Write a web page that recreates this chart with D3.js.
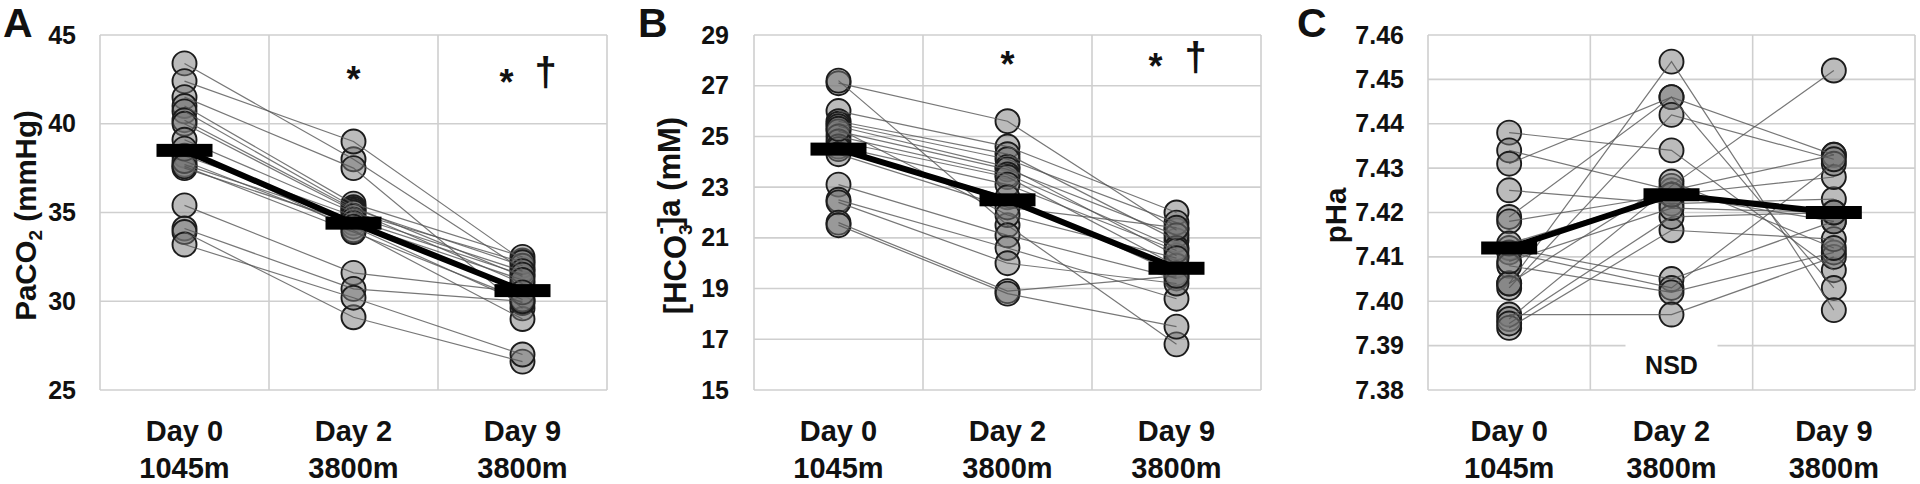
<!DOCTYPE html>
<html><head><meta charset="utf-8">
<script src="https://cdn.jsdelivr.net/npm/d3@7"></script>
<style>
html,body{margin:0;padding:0;background:#fff;}
svg text{font-family:"Liberation Sans",Arial,Helvetica,sans-serif;font-weight:bold;fill:#111;}
</style></head><body>
<svg id="chart" width="1920" height="484"></svg>
<script>
// ---------------- data ----------------
const categories = ["Day 0", "Day 2", "Day 9"];
const altitudes = ["1045m", "3800m", "3800m"];

// Panel A: PaCO2 (mmHg), one entry per subject
const pco2Day0 = [43.4, 42.4, 41.5, 41.0, 40.7, 40.2, 40.0, 39.1, 38.2, 37.7, 37.5, 37.9, 38.6, 37.6, 35.4, 34.1, 33.9, 33.2];
const pco2Day2 = [38.0, 39.0, 37.5, 35.5, 35.3, 35.2, 35.1, 35.0, 34.8, 34.6, 34.4, 34.2, 34.0, 33.9, 31.6, 30.7, 29.1, 30.2];
const pco2Day9 = [31.8, 32.3, 29.6, 32.5, 31.4, 32.0, 31.0, 32.2, 31.7, 31.5, 31.2, 29.9, 29.0, 30.1, 30.5, 30.0, 26.6, 27.0];
const pco2Means = [38.5, 34.4, 30.6];
const pco2Ticks = [25, 30, 35, 40, 45];

// Panel B: [HCO3-]a (mM)
const hco3Day0 = [27.1, 27.2, 26.0, 25.6, 25.5, 25.4, 25.2, 25.0, 24.8, 24.6, 24.5, 24.3, 25.3, 23.1, 22.5, 22.4, 21.6, 21.5];
const hco3Day2 = [25.6, 21.5, 24.6, 24.3, 24.1, 23.8, 23.7, 23.5, 23.4, 23.1, 22.6, 22.2, 21.9, 21.1, 20.6, 20.0, 18.9, 18.8];
const hco3Day9 = [21.3, 16.8, 22.0, 20.9, 21.6, 20.3, 21.1, 20.6, 19.9, 20.5, 19.6, 21.4, 20.2, 19.4, 18.6, 19.2, 19.5, 17.5];
const hco3Means = [24.5, 22.5, 19.8];
const hco3Ticks = [15, 17, 19, 21, 23, 25, 27, 29];

// Panel C: pHa
const phDay0 = [7.438, 7.434, 7.431, 7.425, 7.419, 7.418, 7.412, 7.411, 7.408, 7.404, 7.403, 7.397, 7.396, 7.394, 7.395, 7.413, 7.404, 7.409];
const phDay2 = [7.434, 7.425, 7.446, 7.422, 7.446, 7.424, 7.405, 7.403, 7.402, 7.454, 7.442, 7.397, 7.426, 7.416, 7.419, 7.424, 7.427, 7.421];
const phDay9 = [7.407, 7.433, 7.433, 7.423, 7.403, 7.428, 7.418, 7.431, 7.411, 7.398, 7.432, 7.410, 7.452, 7.414, 7.420, 7.418, 7.412, 7.420];
const phMeans = [7.412, 7.424, 7.420];
const phTicks = [7.38, 7.39, 7.40, 7.41, 7.42, 7.43, 7.44, 7.45, 7.46];

// ---------------- layout ----------------
const TOP = 35, BOTTOM = 390;
const panels = [
  { letter: "A", days: [pco2Day0, pco2Day2, pco2Day9], means: pco2Means, ticks: pco2Ticks,
    fmt: d3.format("d"), left: 100, right: 607, tickGap: 24, titleX: 25, titleSize: 29.5, letterX: 3,
    title: [["PaCO", 0], ["2", 1], [" (mmHg)", 0]],
    stars: [{ cat: "Day 2", txt: "*", dx: 0, y: 92 }, { cat: "Day 9", txt: "*", dx: -16, y: 95 }, { cat: "Day 9", txt: "†", dx: 23, y: 86 }] },
  { letter: "B", days: [hco3Day0, hco3Day2, hco3Day9], means: hco3Means, ticks: hco3Ticks,
    fmt: d3.format("d"), left: 754, right: 1261, tickGap: 25, titleX: 675, titleSize: 31, letterX: 638,
    title: [["[HCO", 0], ["3", 1], ["-", 2], ["]a (mM)", 0]],
    stars: [{ cat: "Day 2", txt: "*", dx: 0, y: 77 }, { cat: "Day 9", txt: "*", dx: -21, y: 79 }, { cat: "Day 9", txt: "†", dx: 19, y: 71 }] },
  { letter: "C", days: [phDay0, phDay2, phDay9], means: phMeans, ticks: phTicks,
    fmt: d3.format(".2f"), left: 1428, right: 1915, tickGap: 24, titleX: 1335, titleSize: 29.5, letterX: 1297,
    title: [["pHa", 0]], stars: [], nsd: true }
];

const svg = d3.select("#chart");
const gridColor = "#cfcfcf";

panels.forEach(p => {
  const g = svg.append("g");
  const x = d3.scaleBand().domain(categories).range([p.left, p.right]).padding(0);
  const y = d3.scaleLinear().domain(d3.extent(p.ticks)).range([BOTTOM, TOP]);
  const cx = c => x(c) + x.bandwidth() / 2;

  // grid: horizontal
  g.append("g").selectAll("line").data(p.ticks).join("line")
    .attr("x1", p.left).attr("x2", p.right)
    .attr("y1", d => y(d)).attr("y2", d => y(d))
    .attr("stroke", gridColor).attr("stroke-width", 1.6);
  // grid: vertical band edges
  const edges = categories.map(c => x(c)).concat([p.right]);
  g.append("g").selectAll("line").data(edges).join("line")
    .attr("x1", d => d).attr("x2", d => d)
    .attr("y1", TOP).attr("y2", BOTTOM)
    .attr("stroke", gridColor).attr("stroke-width", 1.6);

  // NSD label with white backing
  if (p.nsd) {
    g.append("rect").attr("x", cx("Day 2") - 46).attr("y", y(7.39) - 8)
      .attr("width", 92).attr("height", 16).attr("fill", "#fff");
    g.append("text").attr("x", cx("Day 2")).attr("y", 374)
      .attr("text-anchor", "middle").attr("font-size", 25).text("NSD");
  }

  // y axis tick labels
  const ax = d3.axisLeft(y).tickValues(p.ticks).tickFormat(p.fmt).tickSize(0).tickPadding(p.tickGap);
  const axg = g.append("g").attr("transform", `translate(${p.left},0)`).call(ax);
  axg.select(".domain").remove();
  axg.selectAll("text").attr("font-size", 25).attr("font-family", null).attr("fill", "#111").style("font-weight", "bold");

  // x axis labels (two lines)
  g.append("g").selectAll("text").data(categories).join("text")
    .attr("x", d => cx(d)).attr("y", 441).attr("text-anchor", "middle")
    .attr("font-size", 29).text(d => d);
  g.append("g").selectAll("text").data(altitudes).join("text")
    .attr("x", (d, i) => cx(categories[i])).attr("y", 478).attr("text-anchor", "middle")
    .attr("font-size", 29).text(d => d);

  // y title
  const midY = (TOP + BOTTOM) / 2 + 3;
  const t = g.append("text").attr("transform", `translate(${p.titleX},${midY}) rotate(-90)`)
    .attr("text-anchor", "middle").attr("dy", "0.36em").attr("font-size", p.titleSize);
  let shift = 0;
  p.title.forEach(([s, kind]) => {
    const ts = t.append("tspan").text(s);
    if (kind === 1) { ts.attr("font-size", 19).attr("dy", 6 - shift); shift = 6; }
    else if (kind === 2) { ts.attr("font-size", 22).attr("dx", -10).attr("dy", -19 - shift); shift = -13; }
    else { if (shift !== 0) ts.attr("dy", -shift); shift = 0; }
  });

  // panel letter
  g.append("text").attr("x", p.letterX).attr("y", 37).attr("font-size", 41).text(p.letter);

  // subjects
  const nSub = p.days[0].length;
  const subjects = d3.range(nSub).map(i => categories.map((c, k) => ({ c, v: p.days[k][i] })));
  const pts = subjects.flat();
  g.append("g").selectAll("circle").data(pts).join("circle")
    .attr("cx", d => cx(d.c)).attr("cy", d => y(d.v)).attr("r", 12)
    .attr("fill", "#777").attr("fill-opacity", 0.5)
    .attr("stroke", "#1c1c1c").attr("stroke-width", 1.9);
  const line = d3.line().x(d => cx(d.c)).y(d => y(d.v));
  g.append("g").selectAll("path").data(subjects).join("path")
    .attr("d", line).attr("fill", "none").attr("stroke", "#555")
    .attr("stroke-opacity", 0.8).attr("stroke-width", 1.2);

  // mean line and bars
  const meanPts = categories.map((c, k) => ({ c, v: p.means[k] }));
  g.append("path").attr("d", line(meanPts)).attr("fill", "none")
    .attr("stroke", "#000").attr("stroke-width", 6);
  g.append("g").selectAll("rect").data(meanPts).join("rect")
    .attr("x", d => cx(d.c) - 28).attr("y", d => y(d.v) - 6.5)
    .attr("width", 56).attr("height", 13).attr("fill", "#000");

  // significance markers
  g.append("g").selectAll("text").data(p.stars).join("text")
    .attr("x", d => cx(d.cat) + d.dx).attr("y", d => d.y)
    .attr("text-anchor", "middle").attr("font-size", d => d.txt === "*" ? 36 : 40)
    .text(d => d.txt);
});
</script>
</body></html>
